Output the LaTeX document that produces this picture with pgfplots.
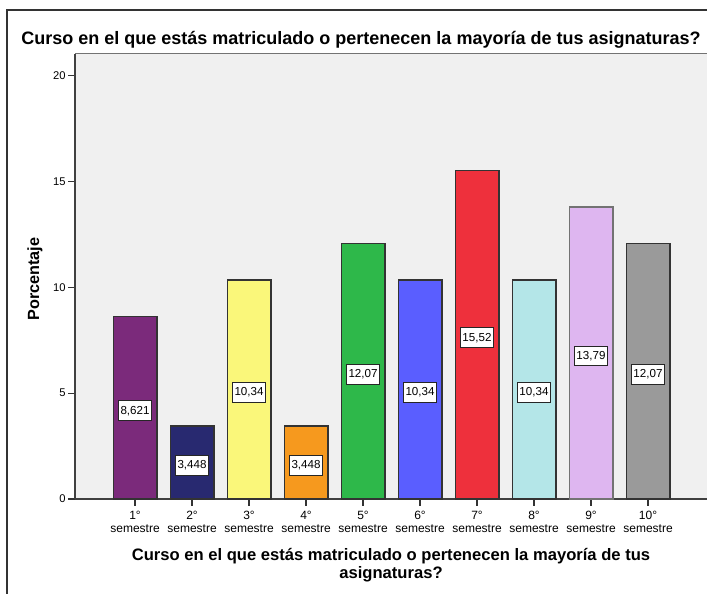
\documentclass[border=0pt]{standalone}
\usepackage{pgfplots}
\pgfplotsset{compat=1.18}
\usepackage{pgfplotstable}
\usepackage{fontspec}
\setmainfont{Liberation Sans}
\definecolor{bgc}{RGB}{240,240,240}
\definecolor{c1}{RGB}{123,42,123}
\definecolor{c2}{RGB}{40,41,112}
\definecolor{c3}{RGB}{250,247,122}
\definecolor{c4}{RGB}{246,153,30}
\definecolor{c5}{RGB}{46,184,74}
\definecolor{c6}{RGB}{90,94,255}
\definecolor{c7}{RGB}{238,48,60}
\definecolor{c8}{RGB}{180,230,232}
\definecolor{c9}{RGB}{222,182,240}
\definecolor{c10}{RGB}{154,154,154}
\pgfplotstableread{
x y lab
1 8.621 8,621
2 3.448 3,448
3 10.34 10,34
4 3.448 3,448
5 12.07 12,07
6 10.34 10,34
7 15.52 15,52
8 10.34 10,34
9 13.79 13,79
10 12.07 12,07
}\data
\begin{document}
\begin{tikzpicture}
\useasboundingbox (0,0) rectangle (353.5pt,297pt);
\draw[black!80, line width=0.6pt] (3.5pt,-2pt) -- (3.5pt,292pt) -- (356pt,292pt);
\node[font=\bfseries\fontsize{9}{10}\selectfont] at (180.5pt,277pt) {Curso en el que estás matriculado o pertenecen la mayoría de tus asignaturas?};
\node[font=\bfseries\fontsize{8.1}{9}\selectfont, rotate=90] at (17.5pt,157.5pt) {Porcentaje};
\node[font=\bfseries\fontsize{8.3}{9}\selectfont, align=center] at (195.5pt,14.5pt) {Curso en el que estás matriculado o pertenecen la mayoría de tus\\asignaturas?};
\begin{axis}[
  at={(37.5pt,47.5pt)}, anchor=south west, scale only axis,
  width=316pt, height=222.7pt,
  xmin=-0.053, xmax=11.035, ymin=0, ymax=21.04,
  axis lines*=left,
  axis line style={black!75, line width=0.6pt},
  axis background/.style={fill=bgc},
  tick align=outside, major tick length=3.5pt,
  tick style={black!80, line width=0.6pt},
  xtick={1,...,10},
  xticklabels={{1°\\semestre},{2°\\semestre},{3°\\semestre},{4°\\semestre},{5°\\semestre},{6°\\semestre},{7°\\semestre},{8°\\semestre},{9°\\semestre},{10°\\semestre}},
  xticklabel style={align=center, font=\fontsize{6}{6.6}\selectfont, inner sep=1pt, yshift=-1.5pt},
  ytick={0,5,10,15,20},
  yticklabel style={font=\fontsize{5.6}{6}\selectfont, inner sep=1pt},
  /pgf/number format/assume math mode=true,
  clip=false,
]
\pgfplotsset{bstyle/.style={ybar, bar width=21.7pt, bar shift=0pt, draw=black!80, line width=0.8pt}}
\addplot[bstyle, fill=c1] coordinates {(1,8.621)};
\addplot[bstyle, fill=c2] coordinates {(2,3.448)};
\addplot[bstyle, fill=c3] coordinates {(3,10.34)};
\addplot[bstyle, fill=c4] coordinates {(4,3.448)};
\addplot[bstyle, fill=c5] coordinates {(5,12.07)};
\addplot[bstyle, fill=c6] coordinates {(6,10.34)};
\addplot[bstyle, fill=c7] coordinates {(7,15.52)};
\addplot[bstyle, fill=c8] coordinates {(8,10.34)};
\addplot[bstyle, fill=c9, draw=black!55] coordinates {(9,13.79)};
\addplot[bstyle, fill=c10] coordinates {(10,12.07)};
\addplot[draw=none, mark=none, nodes near coords, point meta=explicit symbolic,
  nodes near coords align={center},
  every node near coord/.append style={anchor=center, yshift=-1.5pt, fill=white, draw=black!85, line width=0.5pt, font=\fontsize{5.8}{6}\selectfont, inner xsep=1pt, inner ysep=0pt, minimum height=9.8pt}]
  table[x=x, y expr=\thisrow{y}/2, meta=lab] {\data};
\draw[black!55, line width=0.6pt] (rel axis cs:0,1) -- (rel axis cs:1,1);
\end{axis}
\end{tikzpicture}
\end{document}
